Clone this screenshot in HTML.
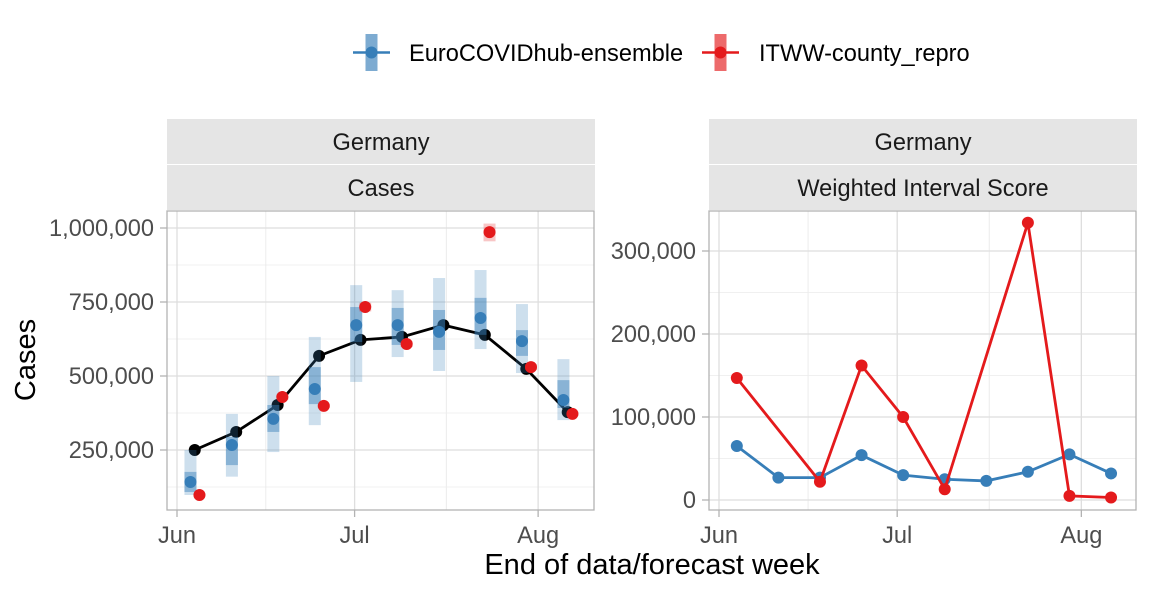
<!DOCTYPE html>
<html><head><meta charset="utf-8"><style>
body{margin:0;background:#fff;}
svg{display:block;font-family:"Liberation Sans",sans-serif;}
</style></head><body>
<svg id="chart" width="1152" height="595" viewBox="0 0 1152 595" xmlns="http://www.w3.org/2000/svg">
<g>
  <g>
    <rect x="365.5" y="34" width="12" height="37" fill="#377eb8" opacity="0.65"/>
    <line x1="353" x2="390" y1="52.5" y2="52.5" stroke="#377eb8" stroke-width="2.5"/>
    <circle cx="371.5" cy="52.5" r="6" fill="#377eb8"/>
    <text x="409" y="61" font-size="23.6" fill="#000">EuroCOVIDhub-ensemble</text>
  </g>
  <g>
    <rect x="714.5" y="34" width="12" height="37" fill="#e41a1c" opacity="0.65"/>
    <line x1="702" x2="739" y1="52.5" y2="52.5" stroke="#e41a1c" stroke-width="2.5"/>
    <circle cx="720.5" cy="52.5" r="6" fill="#e41a1c"/>
    <text x="759" y="61" font-size="23.6" fill="#000">ITWW-county_repro</text>
  </g>
</g>
<g id="left"></g>
<g id="right"></g>
<text x="652" y="574" font-size="29" text-anchor="middle">End of data/forecast week</text>
<text transform="translate(35,360) rotate(-90)" font-size="29" text-anchor="middle">Cases</text>
</svg>
<script>
// days since Jun 1 of each forecast week end
const weekDays = [3, 10, 17, 24, 31, 38, 45, 52, 59, 66];
const truthCases = [250000, 311000, 402000, 568000, 622000, 632000, 672000, 639000, 524000, 378000];
const ensMedian = [142000, 267000, 355000, 456000, 672000, 672000, 649000, 696000, 618000, 419000];
const ensLo90 = [98000, 160000, 243000, 334000, 480000, 564000, 517000, 591000, 510000, 351000];
const ensHi90 = [250000, 372000, 500000, 632000, 807000, 790000, 831000, 858000, 743000, 557000];
const ensLo50 = [108000, 199000, 311000, 405000, 615000, 605000, 588000, 639000, 568000, 392000];
const ensHi50 = [176000, 294000, 402000, 530000, 733000, 730000, 723000, 764000, 655000, 486000];
const itwMedian = [98000, null, 429000, 399000, 733000, 608000, null, 986000, 530000, 372000];
const itwLo = [92000, null, 420000, 392000, 718000, 598000, null, 955000, 520000, 365000];
const itwHi = [104000, null, 438000, 406000, 748000, 618000, null, 1015000, 540000, 380000];
const wisEns = [65000, 27000, 27000, 54000, 30000, 25000, 23000, 34000, 55000, 32000];
const wisItw = [147000, null, 22000, 162000, 100000, 13000, null, 334000, 5000, 3000];
const leftTicks = [250000, 500000, 750000, 1000000];
const leftTickLabels = ["250,000", "500,000", "750,000", "1,000,000"];
const rightTicks = [0, 100000, 200000, 300000];
const rightTickLabels = ["0", "100,000", "200,000", "300,000"];
const monthDays = [0, 30, 61];
const monthLabels = ["Jun", "Jul", "Aug"];
const minorDays = [15, 45.5];

const NS = "http://www.w3.org/2000/svg";
function mk(parent, tag, attrs, text) {
  const e = document.createElementNS(NS, tag);
  for (const k in attrs) e.setAttribute(k, attrs[k]);
  if (text !== undefined) e.textContent = text;
  parent.appendChild(e);
  return e;
}

function panel(g, px, xScale, yScale, ticks, labels, minorY, stripTitle) {
  const L = px, R = px + 427, T = 211, B = 510;
  const s1 = mk(g, "rect", {x: L, y: 119, width: 428, height: 45, fill: "#e5e5e5"});
  
  
  const s2 = mk(g, "rect", {x: L, y: 165, width: 428, height: 45, fill: "#e5e5e5"});
  
  
  const t1 = mk(g, "text", {x: L + 214, y: 150, "font-size": 23.6, "text-anchor": "middle", fill: "#1a1a1a"}, "Germany");
  
  
  const t2 = mk(g, "text", {x: L + 214, y: 196, "font-size": 23.6, "text-anchor": "middle", fill: "#1a1a1a"}, stripTitle);
  
  
  minorY.forEach(v => { const y = yScale(v); if (y > T && y < B) mk(g, "line", {x1: L, x2: R, y1: y, y2: y, stroke: "#f0f0f0", "stroke-width": 1}); });
  minorDays.forEach(d => mk(g, "line", {x1: xScale(d), x2: xScale(d), y1: T, y2: B, stroke: "#ececec", "stroke-width": 1}));
  ticks.forEach((v, i) => {
    const y = yScale(v);
    mk(g, "line", {x1: L, x2: R, y1: y, y2: y, stroke: "#dedede", "stroke-width": 1.3});
    mk(g, "line", {x1: L - 7, x2: L, y1: y, y2: y, stroke: "#b3b3b3", "stroke-width": 1.3});
    const tl = mk(g, "text", {x: L - 13, y: y + 8, "font-size": 23.6, "text-anchor": "end", fill: "#4d4d4d"}, labels[i]);
    
    
  });
  monthDays.forEach((d, i) => {
    const x = xScale(d);
    mk(g, "line", {x1: x, x2: x, y1: T, y2: B, stroke: "#dedede", "stroke-width": 1.3});
    mk(g, "line", {x1: x, x2: x, y1: B, y2: B + 7, stroke: "#b3b3b3", "stroke-width": 1.3});
    const tl = mk(g, "text", {x: x, y: B + 33, "font-size": 23.6, "text-anchor": "middle", fill: "#4d4d4d"}, monthLabels[i]);
    
    
  });
  const border = mk(g, "rect", {x: L, y: T, width: 427, height: B - T, fill: "none", stroke: "#b3b3b3", "stroke-width": 1.3});
  
  
}

// LEFT
const lg = document.getElementById("left");
const lx = d => 177 + d * 5.92;
const ly = v => 450 - (v - 250000) * 74 / 250000;
panel(lg, 167, lx, ly, leftTicks, leftTickLabels, [125000, 375000, 625000, 875000], "Cases");
let pts = weekDays.map((d, i) => lx(d) + "," + ly(truthCases[i])).join(" ");
const tline = mk(lg, "polyline", {points: pts, fill: "none", stroke: "#000", "stroke-width": 2.8});


weekDays.forEach((d, i) => {
  const c = mk(lg, "circle", {cx: lx(d), cy: ly(truthCases[i]), r: 6, fill: "#000"});
  
  
});
weekDays.forEach((d, i) => {
  const x = lx(d) - 4.3;
  const r90 = mk(lg, "rect", {x: x - 6, y: ly(ensHi90[i]), width: 12, height: ly(ensLo90[i]) - ly(ensHi90[i]), fill: "#377eb8", opacity: 0.25});
  
  
  const r50 = mk(lg, "rect", {x: x - 6, y: ly(ensHi50[i]), width: 12, height: ly(ensLo50[i]) - ly(ensHi50[i]), fill: "#377eb8", opacity: 0.45});
  
  
  const c = mk(lg, "circle", {cx: x, cy: ly(ensMedian[i]), r: 6, fill: "#377eb8"});
  
  
});
weekDays.forEach((d, i) => {
  if (itwMedian[i] === null) return;
  const x = lx(d) + 4.7;
  const r = mk(lg, "rect", {x: x - 6, y: ly(itwHi[i]), width: 12, height: ly(itwLo[i]) - ly(itwHi[i]), fill: "#e41a1c", opacity: 0.25});
  
  
  const c = mk(lg, "circle", {cx: x, cy: ly(itwMedian[i]), r: 6, fill: "#e41a1c"});
  
  
});

// RIGHT
const rg = document.getElementById("right");
const rx = d => 719 + d * 5.94;
const ry = v => 500 - v * 83 / 100000;
panel(rg, 709, rx, ry, rightTicks, rightTickLabels, [50000, 150000, 250000, 350000], "Weighted Interval Score");
function series(vals, color, name) {
  let cur = [];
  weekDays.forEach((d, i) => {
    if (vals[i] === null) return;
    cur.push(rx(d) + "," + ry(vals[i]));
  });
  const pl = mk(rg, "polyline", {points: cur.join(" "), fill: "none", stroke: color, "stroke-width": 2.8});
  
  
  weekDays.forEach((d, i) => {
    if (vals[i] === null) return;
    const c = mk(rg, "circle", {cx: rx(d), cy: ry(vals[i]), r: 6, fill: color});
    
    
  });
}
series(wisEns, "#377eb8", "ensemble-wis");
series(wisItw, "#e41a1c", "itww-wis");
</script>
</body></html>
